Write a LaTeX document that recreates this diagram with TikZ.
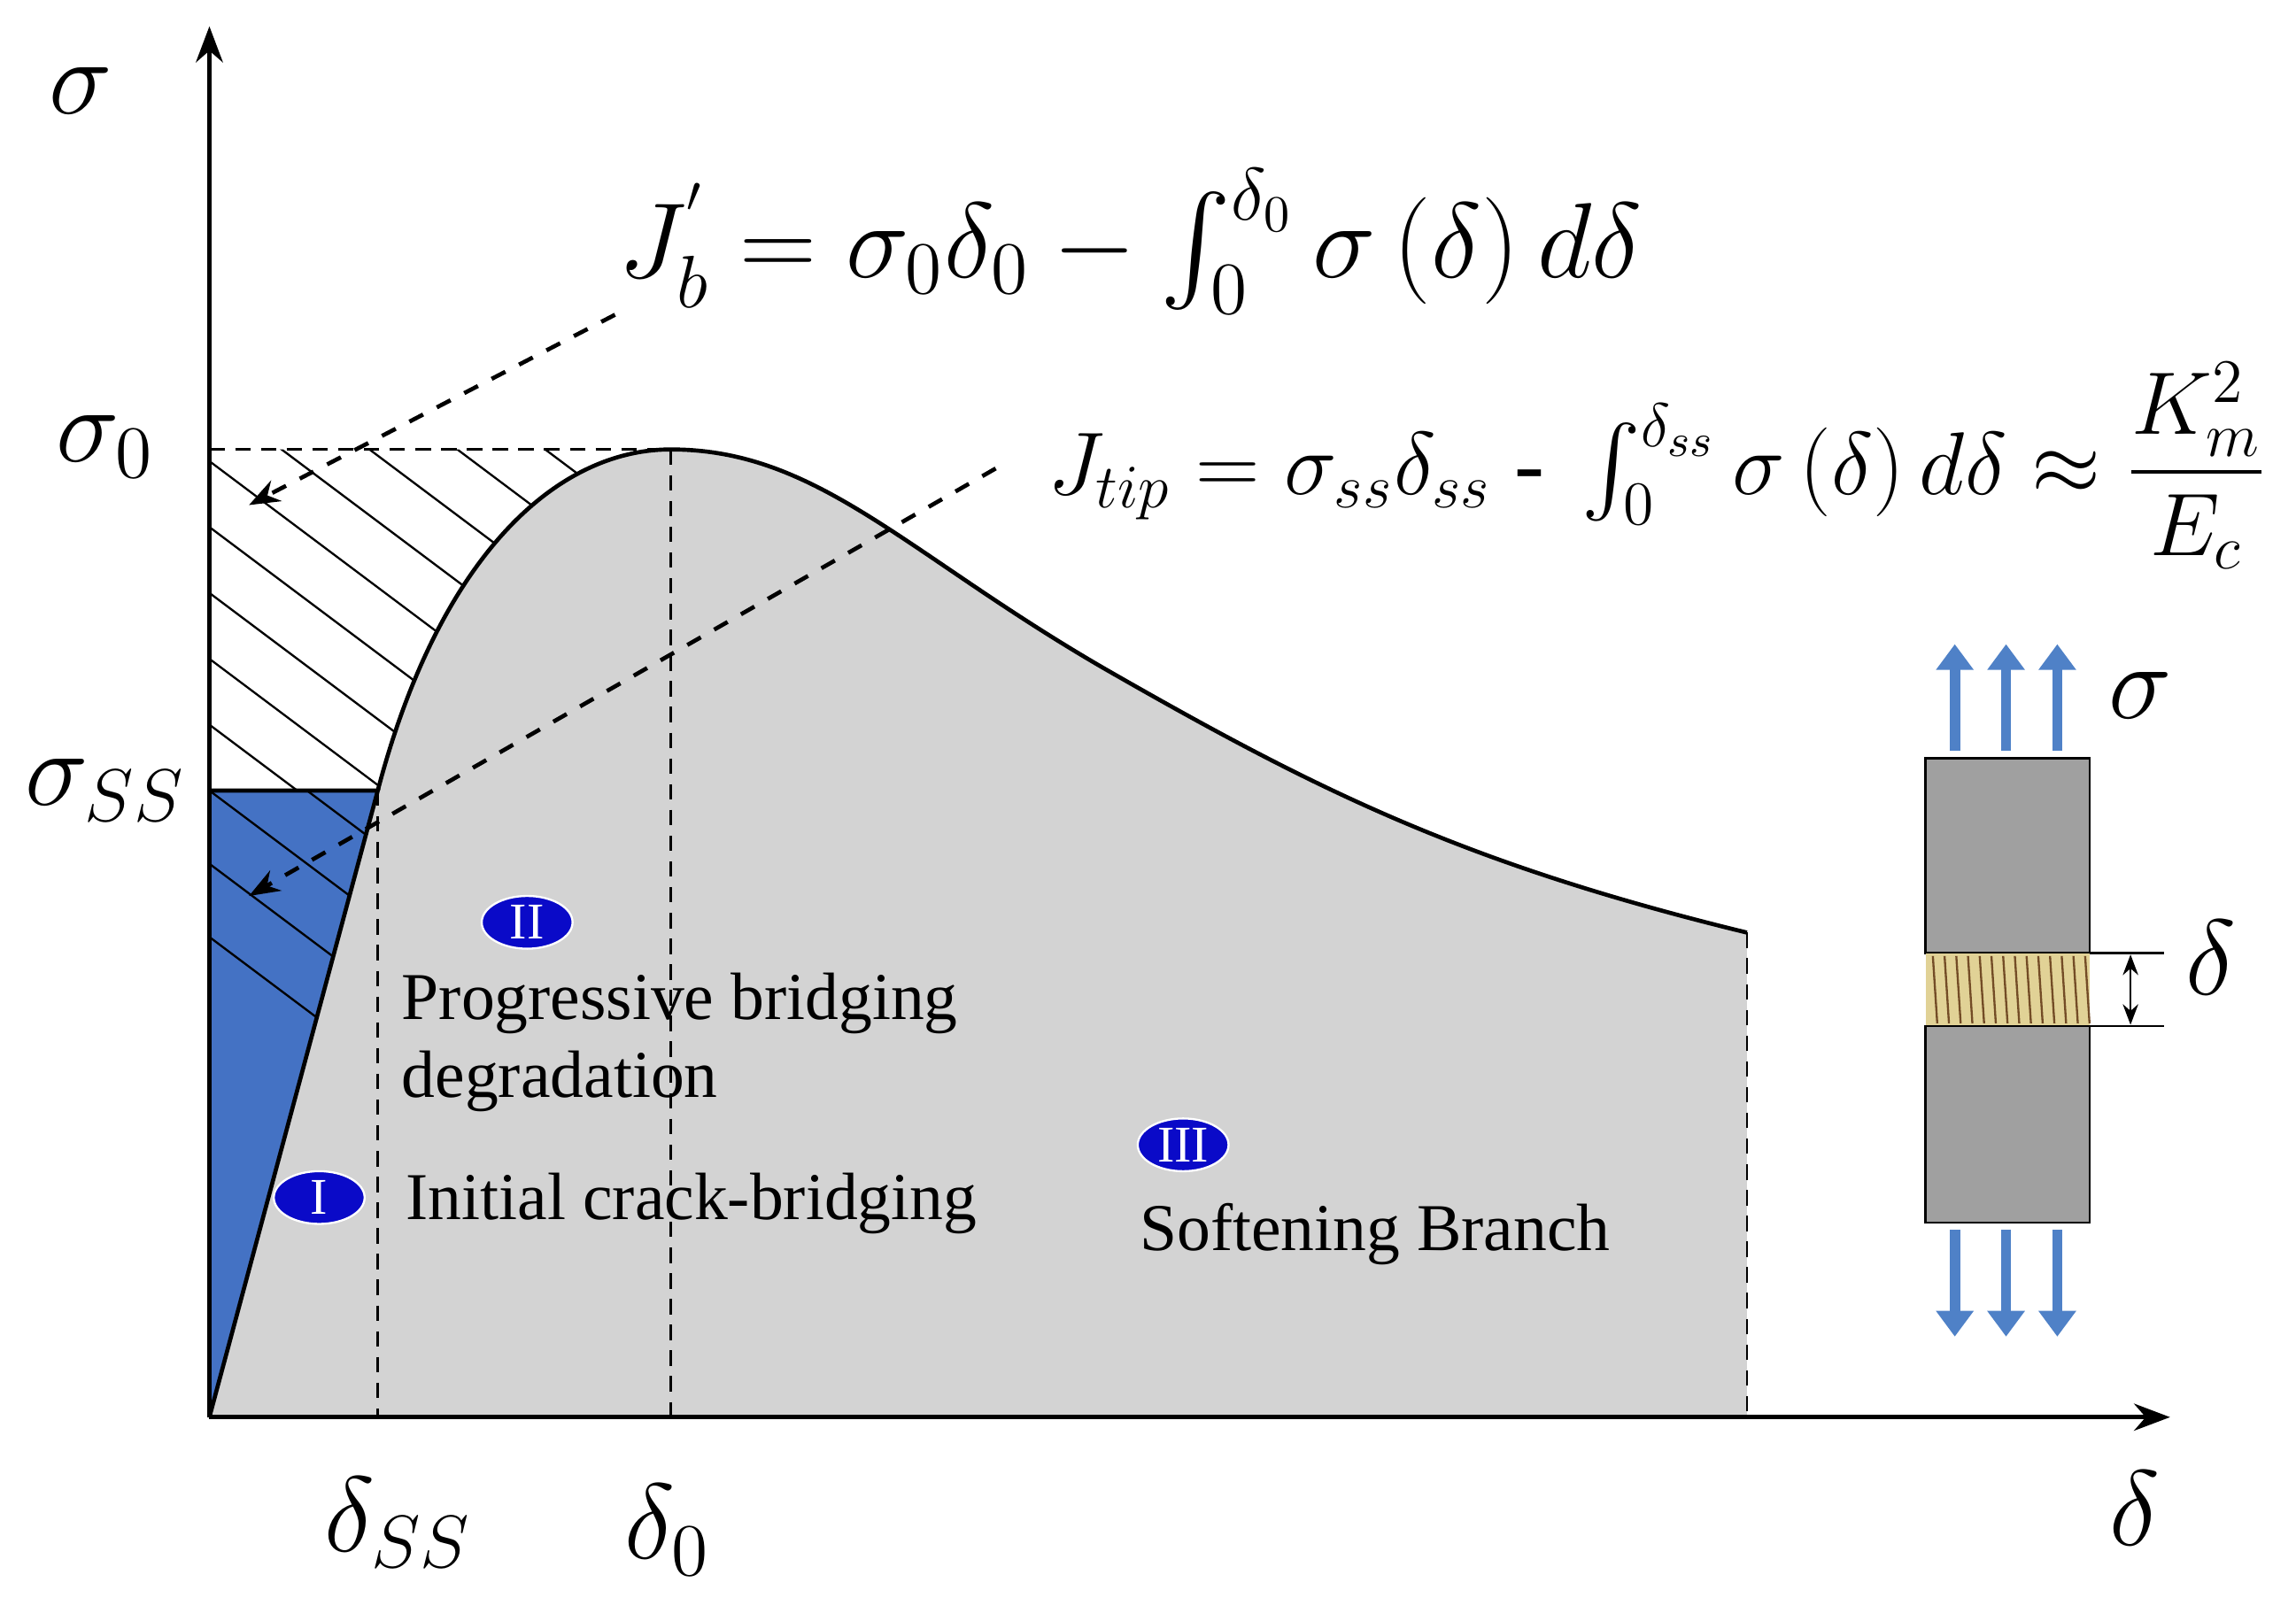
\documentclass[tikz,border=0pt]{standalone}
\usepackage{amsmath}
\usepackage{fontspec}
\setmainfont{Liberation Serif}
\usetikzlibrary{arrows.meta}
\definecolor{areagrey}{RGB}{211,211,211}
\definecolor{areablue}{RGB}{68,114,196}
\definecolor{markblue}{RGB}{10,10,200}
\definecolor{arrowblue}{RGB}{79,129,199}
\definecolor{specgrey}{RGB}{160,160,160}
\definecolor{bandyellow}{RGB}{225,210,150}
\tikzset{
  guide/.style={densely dashed, thin},
  pointer/.style={dashed, thick, -{Stealth[length=6pt]}},
  marker/.style={ellipse, fill=markblue, draw=white, text=white, inner sep=0pt, minimum width=0.62cm, minimum height=0.36cm, font=\fontsize{10}{10}\selectfont},
  label/.style={font=\fontsize{13}{15}\selectfont, align=left, anchor=west},
  load/.style={arrowblue, line width=2pt, -{Triangle[length=5pt,width=7pt]}}
}
\usetikzlibrary{shapes.geometric}
\begin{document}
\begin{tikzpicture}[x=0.01cm,y=-0.01cm]
\useasboundingbox (0,0) rectangle (1568,1107);
% areas
\begin{scope}
\clip (143,540) -- (143,307) -- (458,307) .. controls (380,307) and (300,380) .. (258,540) -- cycle;
\foreach \s in {-400,-340,...,400}
  \draw[thin] (143+\s,240) -- ++(500,375);
\end{scope}
\fill[areagrey] (143,968) -- (258,540) .. controls (300,380) and (380,307) .. (458,307)
  .. controls (560,307) and (620,380) .. (760,460) .. controls (900,540) and (1000,590) .. (1193,637)
  -- (1193,968) -- cycle;
\draw[thick] (258,540) .. controls (300,380) and (380,307) .. (458,307)
  .. controls (560,307) and (620,380) .. (760,460) .. controls (900,540) and (1000,590) .. (1193,637);
\fill[areablue] (143,968) -- (143,540) -- (258,540) -- cycle;
\begin{scope}
\clip (143,968) -- (143,540) -- (258,540) -- cycle;
\foreach \s in {-500,-450,...,100}
  \draw[thin] (143,540+\s) -- ++(300,225);
\end{scope}
\draw[thick] (143,968) -- (258,540) -- (143,540);
% guides
\draw[guide] (143,307) -- (458,307);
\draw[guide] (458,307) -- (458,968);
\draw[guide] (258,540) -- (258,968);
\draw[guide] (1193,637) -- (1193,968);
% axes
\draw[thick,-{Stealth[length=7pt]}] (143,968) -- (143,18);
\draw[thick,-{Stealth[length=7pt]}] (143,968) -- (1482,968);
\node (sig) at (55,62) {\fontsize{22}{22}\selectfont$\sigma$};
\node (sig0) at (72,305) {\fontsize{22}{22}\selectfont$\sigma_0$};
\node (sigss) at (72,540) {\fontsize{22}{22}\selectfont$\sigma_{SS}$};
\node (delss) at (272,1040) {\fontsize{22}{22}\selectfont$\delta_{SS}$};
\node (del0) at (456,1045) {\fontsize{22}{22}\selectfont$\delta_0$};
\node (del) at (1458,1030) {\fontsize{22}{22}\selectfont$\delta$};
% equations
\node (jb) at (772,165) {\fontsize{20.5}{20.5}\selectfont$J_b^{'}=\sigma_0\delta_0-\int_0^{\delta_0}\sigma\left(\delta\right)d\delta$};
\node (jtip) at (1132,318) {\fontsize{17.5}{17.5}\selectfont$J_{tip}=\sigma_{ss}\delta_{ss}\text{ - }\int_0^{\delta_{ss}}\sigma\left(\delta\right)d\delta\approx\dfrac{K_m^2}{E_c}$};
\coordinate (jbend) at (170,345);
\coordinate (jtipend) at (170,612);
\draw[pointer] (420,215) -- (jbend);
\draw[pointer] (680,320) -- (jtipend);
% stages
\node[marker] (m2) at (360,630) {II};
\node[label] (t2) at (262,712) {Progressive bridging\\degradation};
\node[marker] (m1) at (218,818) {I};
\node[label] (t1) at (265,822) {Initial crack-bridging};
\node[marker] (m3) at (808,782) {III};
\node[label] (t3) at (766,843) {Softening Branch};
% specimen
\draw[fill=specgrey] (1315,518) rectangle (1427,651);
\fill[bandyellow] (1315,651) rectangle (1427,701);
\foreach \x in {1320,1328,...,1424}
  \draw[brown!60!black,thin] (\x,653) -- (\x+3,699);
\draw[fill=specgrey] (1315,701) rectangle (1427,835);
\foreach \x in {1335,1370,1405} {
  \draw[load] (\x,513) -- (\x,440);
  \draw[load] (\x,840) -- (\x,913);
}
\node (sigload) at (1462,475) {\fontsize{20}{20}\selectfont$\sigma$};
\draw (1427,651) -- (1478,651);
\draw (1427,701) -- (1478,701);
\draw[{Stealth[length=4pt]}-{Stealth[length=4pt]}] (1455,652) -- (1455,700);
\node (delgap) at (1510,654) {\fontsize{20}{20}\selectfont$\delta$};
\end{tikzpicture}
\end{document}
